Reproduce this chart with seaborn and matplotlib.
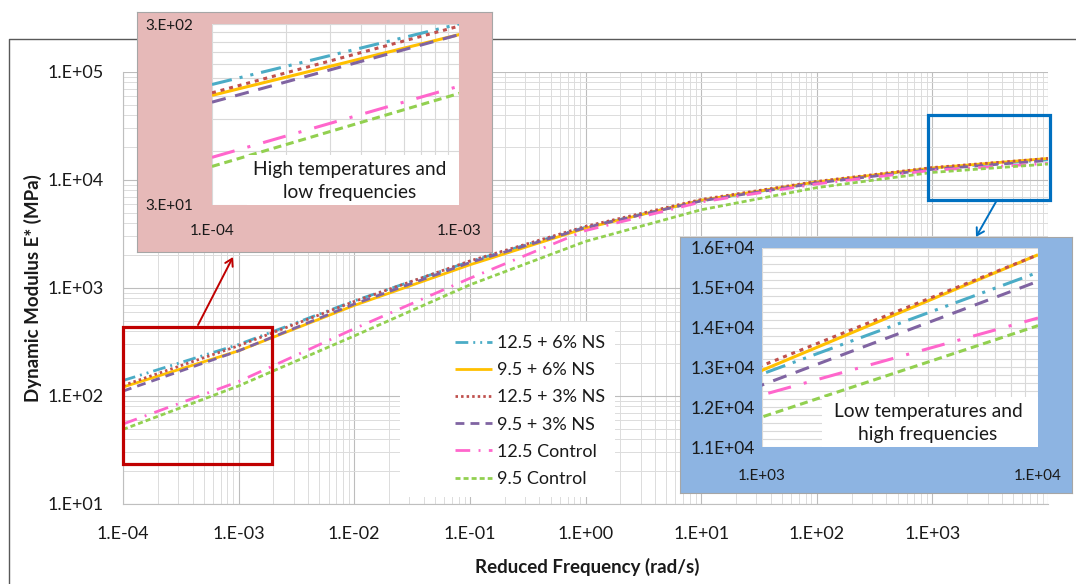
import numpy as np
import pandas as pd
import matplotlib
matplotlib.use("Agg")
import matplotlib.pyplot as plt
import seaborn as sns
from matplotlib.ticker import FixedLocator, FuncFormatter, FixedFormatter, MultipleLocator, LogLocator, NullFormatter
from matplotlib.patches import Rectangle, FancyArrowPatch
from matplotlib.lines import Line2D

# ---------------- data ----------------
freq = [1e-4, 1e-3, 1e-2, 1e-1, 1e0, 1e1, 1e2, 1e3, 1e4]
series_names = ["12.5 + 6% NS", "9.5 + 6% NS", "12.5 + 3% NS",
                "9.5 + 3% NS", "12.5 Control", "9.5 Control"]
e_125_6ns = [139, 300, 760, 1760, 3650, 6450, 9500, 12834, 15389]
e_95_6ns = [121, 262, 690, 1640, 3580, 6500, 9600, 12926, 15830]
e_125_3ns = [125, 292, 750, 1780, 3720, 6600, 9700, 13044, 15830]
e_95_3ns = [111, 262, 710, 1720, 3620, 6400, 9400, 12558, 15163]
e_125_ctrl = [55, 136, 420, 1230, 3400, 6250, 9200, 12307, 14241]
e_95_ctrl = [49, 124, 360, 1070, 2700, 5300, 8500, 11754, 14049]
all_values = [e_125_6ns, e_95_6ns, e_125_3ns, e_95_3ns, e_125_ctrl, e_95_ctrl]

main_xticks = [1e-4, 1e-3, 1e-2, 1e-1, 1e0, 1e1, 1e2, 1e3, 1e4]
main_yticks = [1e1, 1e2, 1e3, 1e4, 1e5]
inset1_yticklabels = ["3.E+01", "3.E+02"]
inset2_yticks = [11000, 12000, 13000, 14000, 15000, 16000]

df = pd.DataFrame({
    "freq": freq * len(series_names),
    "E": np.concatenate(all_values),
    "mix": np.repeat(series_names, len(freq)),
})

palette = {
    "12.5 + 6% NS": "#4BACC6",
    "9.5 + 6% NS": "#FFC000",
    "12.5 + 3% NS": "#C0504D",
    "9.5 + 3% NS": "#8064A2",
    "12.5 Control": "#FF66CC",
    "9.5 Control": "#92D050",
}
dash_main = {
    "12.5 + 6% NS": (4.6, 1.8, 0.7, 1.8, 0.7, 1.8),
    "9.5 + 6% NS": "",
    "12.5 + 3% NS": (0.9, 1.1),
    "9.5 + 3% NS": (3.2, 2.2),
    "12.5 Control": (5.3, 3.0, 0.7, 3.0),
    "9.5 Control": (1.8, 1.1),
}
def scaled(d, k):
    return {n: (tuple(v * k for v in p) if p else "") for n, p in d.items()}
dash_inset = scaled(dash_main, 1.45)

# ---------------- figure ----------------
sns.set_style("white")
plt.rcParams['font.family'] = ['Lato', 'DejaVu Sans']
plt.rcParams['lines.solid_capstyle'] = 'butt'
plt.rcParams['lines.dash_capstyle'] = 'butt'

W, H = 1076, 584
fig = plt.figure(figsize=(W / 100, H / 100), dpi=100)
fig.patch.set_facecolor("white")

def rect(x0, y0, x1, y1):
    return [x0 / W, 1 - y1 / H, (x1 - x0) / W, (y1 - y0) / H]

def fx(x):
    return x / W

def fy(y):
    return 1 - y / H

# outer chart frame
fig.add_artist(Line2D([fx(9), fx(9), 1.0], [0.0, fy(39), fy(39)],
                      transform=fig.transFigure, color="#595959", lw=1.0, zorder=-1))

TXT = "#1a1a1a"

def dec_label(v, pos):
    return f"1.E{int(round(np.log10(v))):+03d}"

# ---------------- main axes ----------------
ax = fig.add_axes(rect(123, 72, 1048, 504))
sns.lineplot(data=df, x="freq", y="E", hue="mix", style="mix",
             hue_order=series_names, style_order=series_names,
             palette=palette, dashes=dash_main, linewidth=2.0,
             estimator=None, legend=False, ax=ax)
ax.set_xscale("log")
ax.set_yscale("log")
ax.set_xlim(1e-4, 1e4)
ax.set_ylim(10, 1e5)
ax.xaxis.set_major_locator(FixedLocator(main_xticks))
ax.xaxis.set_minor_locator(LogLocator(base=10, subs=np.arange(2, 10), numticks=100))
ax.yaxis.set_major_locator(FixedLocator(main_yticks))
ax.yaxis.set_minor_locator(LogLocator(base=10, subs=np.arange(2, 10), numticks=100))
ax.xaxis.set_major_formatter(FuncFormatter(lambda v, p: "" if v > 5e3 else dec_label(v, p)))
ax.yaxis.set_major_formatter(FuncFormatter(dec_label))
ax.xaxis.set_minor_formatter(NullFormatter())
ax.yaxis.set_minor_formatter(NullFormatter())
ax.set_axisbelow(True)
ax.grid(True, which="major", color="#bdbdbd", lw=0.8)
ax.grid(True, which="minor", color="#dcdcdc", lw=0.7)
ax.tick_params(which="both", length=0, labelsize=13, labelcolor=TXT)
ax.tick_params(axis="y", pad=14)
ax.tick_params(axis="x", pad=16)
for s in ["top", "right"]:
    ax.spines[s].set_visible(False)
for s in ["left", "bottom"]:
    ax.spines[s].set_color("#bfbfbf")
    ax.spines[s].set_linewidth(0.8)
ax.set_xlabel("Reduced Frequency (rad/s)", fontsize=13.5, fontweight="bold", color=TXT, va="center")
ax.set_ylabel("Dynamic Modulus E* (MPa)", fontsize=13.5, fontweight="bold", color=TXT, va="center")
ax.xaxis.set_label_coords((587 - 123) / 925, (584 - 567 - 80) / 432)
ax.yaxis.set_label_coords((33 - 123) / 925, 0.5)

# legend background + legend
ax.add_artist(Rectangle((fx(400), fy(497)), fx(615) - fx(400), fy(322) - fy(497),
                        transform=fig.transFigure, facecolor="white", edgecolor="none", zorder=1.6))
handles = []
for n in series_names:
    h = Line2D([], [], color=palette[n], lw=2.0)
    if dash_main[n]:
        h.set_dashes(dash_main[n])
    handles.append(h)
leg = ax.legend(handles, series_names, loc="upper left",
                bbox_to_anchor=(fx(446), fy(326)), bbox_transform=fig.transFigure,
                frameon=False, borderpad=0, handlelength=2.05, handletextpad=0.3,
                labelspacing=0.62, fontsize=13)
leg.set_zorder(5)
for t in leg.get_texts():
    t.set_color(TXT)

# highlight rectangles on the main chart
ax.add_patch(Rectangle((1e-4, 23.5), 1.95e-3 - 1e-4, 440 - 23.5, fill=False,
                       edgecolor="#C00000", lw=2.3, zorder=6, clip_on=False))
ax.add_patch(Rectangle((920, 6490), 1.05e4 - 920, 39900 - 6490, fill=False,
                       edgecolor="#0070C0", lw=2.3, zorder=6, clip_on=False))

# ---------------- inset 1 : high temperatures / low frequencies ----------------
bg1 = fig.add_axes(rect(137, 12, 492, 252))
bg1.set_facecolor("#E6B9B8")
bg1.set_xticks([]); bg1.set_yticks([])
for s in bg1.spines.values():
    s.set_color("#a6a6a6"); s.set_linewidth(0.8)

in1 = fig.add_axes(rect(212, 24, 459, 205))
sns.lineplot(data=df, x="freq", y="E", hue="mix", style="mix",
             hue_order=series_names, style_order=series_names,
             palette=palette, dashes=dash_inset, linewidth=2.2,
             estimator=None, legend=False, ax=in1)
in1.set_xscale("log"); in1.set_yscale("log")
in1.set_xlim(1e-4, 1e-3); in1.set_ylim(30, 300)
in1.xaxis.set_major_locator(FixedLocator([1e-4, 1e-3]))
in1.xaxis.set_major_formatter(FixedFormatter(["1.E-04", "1.E-03"]))
in1.xaxis.set_minor_locator(FixedLocator([k * 1e-4 for k in range(2, 10)]))
in1.yaxis.set_major_locator(FixedLocator([30, 300]))
in1.yaxis.set_major_formatter(FixedFormatter(inset1_yticklabels))
in1.yaxis.set_minor_locator(FixedLocator([30 * k for k in range(2, 10)]))
in1.xaxis.set_minor_formatter(NullFormatter()); in1.yaxis.set_minor_formatter(NullFormatter())
in1.set_axisbelow(True)
in1.grid(True, which="both", color="#d9d9d9", lw=0.8)
in1.tick_params(which="both", length=0, labelsize=11, labelcolor=TXT)
in1.tick_params(axis="y", pad=13.5)
in1.tick_params(axis="x", pad=13.5)
in1.set_xlabel(""); in1.set_ylabel("")
for s in in1.spines.values():
    s.set_visible(False)
in1.add_artist(Rectangle((fx(247), fy(205)), fx(459) - fx(247), fy(155) - fy(205),
                         transform=fig.transFigure, facecolor="white", edgecolor="none", zorder=4))
in1.text(fx(350), fy(181), "High temperatures and\nlow frequencies", transform=fig.transFigure,
         ha="center", va="center", fontsize=13.8, color=TXT, zorder=5, linespacing=1.4)

# ---------------- inset 2 : low temperatures / high frequencies ----------------
bg2 = fig.add_axes(rect(680, 237, 1072, 493))
bg2.set_facecolor("#8DB4E2")
bg2.set_xticks([]); bg2.set_yticks([])
for s in bg2.spines.values():
    s.set_color("#a6a6a6"); s.set_linewidth(0.8)

in2 = fig.add_axes(rect(762, 248, 1038, 447))
sns.lineplot(data=df, x="freq", y="E", hue="mix", style="mix",
             hue_order=series_names, style_order=series_names,
             palette=palette, dashes=dash_inset, linewidth=2.2,
             estimator=None, legend=False, ax=in2)
in2.set_xscale("log")
in2.set_xlim(1e3, 1e4); in2.set_ylim(11000, 16000)
in2.xaxis.set_major_locator(FixedLocator([1e3, 1e4]))
in2.xaxis.set_major_formatter(FixedFormatter(["1.E+03", "1.E+04"]))
in2.xaxis.set_minor_locator(FixedLocator([k * 1e3 for k in range(2, 10)]))
in2.xaxis.set_minor_formatter(NullFormatter())
in2.yaxis.set_major_locator(FixedLocator(inset2_yticks))
in2.yaxis.set_major_formatter(FuncFormatter(lambda v, p: f"{v / 1e4:.1f}E+04"))
in2.yaxis.set_minor_locator(MultipleLocator(200))
in2.set_axisbelow(True)
in2.grid(True, which="both", color="#d9d9d9", lw=0.8)
in2.tick_params(which="both", length=0, labelcolor=TXT)
in2.tick_params(axis="y", labelsize=12.5, pad=5)
in2.tick_params(axis="x", labelsize=11, pad=16)
in2.set_xlabel(""); in2.set_ylabel("")
for s in in2.spines.values():
    s.set_visible(False)
in2.add_artist(Rectangle((fx(822), fy(447)), fx(1038) - fx(822), fy(397) - fy(447),
                         transform=fig.transFigure, facecolor="white", edgecolor="none", zorder=4))
in2.text(fx(928), fy(423), "Low temperatures and\nhigh frequencies", transform=fig.transFigure,
         ha="center", va="center", fontsize=13.8, color=TXT, zorder=5, linespacing=1.4)

# ---------------- arrows ----------------
fig.add_artist(FancyArrowPatch((fx(198), fy(325)), (fx(233), fy(257)), transform=fig.transFigure,
                               arrowstyle="->,head_length=5,head_width=3", color="#C00000", lw=1.4,
                               shrinkA=0, shrinkB=0, zorder=10))
fig.add_artist(FancyArrowPatch((fx(997), fy(200)), (fx(976), fy(237)), transform=fig.transFigure,
                               arrowstyle="->,head_length=5,head_width=3", color="#0070C0", lw=1.4,
                               shrinkA=0, shrinkB=0, zorder=10))

fig.savefig("out.png", dpi=100)
